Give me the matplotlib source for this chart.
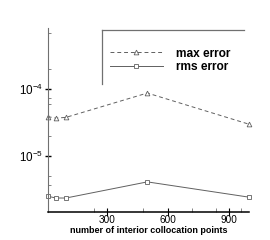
import numpy as np
import matplotlib
matplotlib.use("Agg")
import matplotlib.pyplot as plt
from matplotlib.lines import Line2D

"Data read from the reference"
n_points = [10, 50, 100, 500, 1000]
max_error = [3.9e-5, 3.7e-5, 3.8e-5, 8.8e-5, 3.0e-5]
rms_error = [2.5e-6, 2.35e-6, 2.35e-6, 4.1e-6, 2.42e-6]
x_major = [300, 600, 900]
x_minor = [240, 480, 720, 840, 960]
y_major = [1e-5, 1e-4]
y_minor = [3.7e-6, 5e-6, 2e-5, 6e-5, 7.5e-5, 2e-4, 7e-4]

plt.rcParams['font.family'] = ['Liberation Sans', 'DejaVu Sans']
plt.rcParams['mathtext.fontset'] = 'custom'
plt.rcParams['mathtext.rm'] = 'Liberation Sans'

W, H = 270, 240
fig = plt.figure(figsize=(W / 100, H / 100), dpi=100)
ax = fig.add_axes([47.7 / W, 1 - 212 / H, (249 - 47.7) / W, (212 - 28) / H])

line_col = '#606060'
ax.plot(n_points, max_error, linestyle=(0, (4, 3)), color=line_col, lw=0.7,
        marker='^', markersize=3.4, markerfacecolor='white', markeredgewidth=0.6,
        label='max error', clip_on=False)
ax.plot(n_points, rms_error, linestyle='-', color=line_col, lw=0.7,
        marker='s', markersize=3.2, markerfacecolor='white', markeredgewidth=0.6,
        label='rms error', clip_on=False)

ax.set_yscale('log')
ax.set_xlim(10, 1000)
ax.set_ylim(1.45e-6, 8.3e-4)

ax.set_xticks(x_major)
ax.set_xticklabels([str(v) for v in x_major])
ax.set_xticks(x_minor, minor=True)
ax.set_yticks(y_major)
ax.set_yticklabels([r'$\mathdefault{10^{-5}}$', r'$\mathdefault{10^{-4}}$'])
ax.set_yticks(y_minor, minor=True)
ax.yaxis.set_minor_formatter(plt.NullFormatter())

for s in ['top', 'right']:
    ax.spines[s].set_visible(False)
ax.spines['left'].set_color('#707070')
ax.spines['left'].set_linewidth(0.8)
ax.spines['bottom'].set_color('black')
ax.spines['bottom'].set_linewidth(1.1)

ax.tick_params(axis='x', which='major', direction='inout', length=6, width=0.8,
               labelsize=7.2, pad=-0.5, colors='black')
ax.tick_params(axis='x', which='minor', direction='in', length=3, width=0.6, colors='#707070')
ax.tick_params(axis='y', which='major', direction='inout', length=5, width=1.0,
               labelsize=8.4, pad=1, colors='black')
ax.tick_params(axis='y', which='minor', direction='in', length=2.5, width=0.6, colors='#707070')

ax.set_xlabel('number of interior collocation points', fontsize=6.5,
              fontweight='bold', labelpad=0.3)

# legend with an open box (top and left edges only)
leg = ax.legend(loc='center left', bbox_to_anchor=(110 / W, 1 - 60.5 / H),
                bbox_transform=fig.transFigure, frameon=False, borderpad=0,
                borderaxespad=0, handlelength=4.4, handletextpad=1.1,
                labelspacing=0.15, prop={'size': 8.6, 'weight': 'bold'})
fig.add_artist(Line2D([102 / W, 244 / W], [1 - 30 / H, 1 - 30 / H],
                      transform=fig.transFigure, color='#707070', lw=0.9))
fig.add_artist(Line2D([102 / W, 102 / W], [1 - 30 / H, 1 - 84 / H],
                      transform=fig.transFigure, color='#707070', lw=0.9))

fig.savefig('out.png', dpi=100, facecolor='white')
